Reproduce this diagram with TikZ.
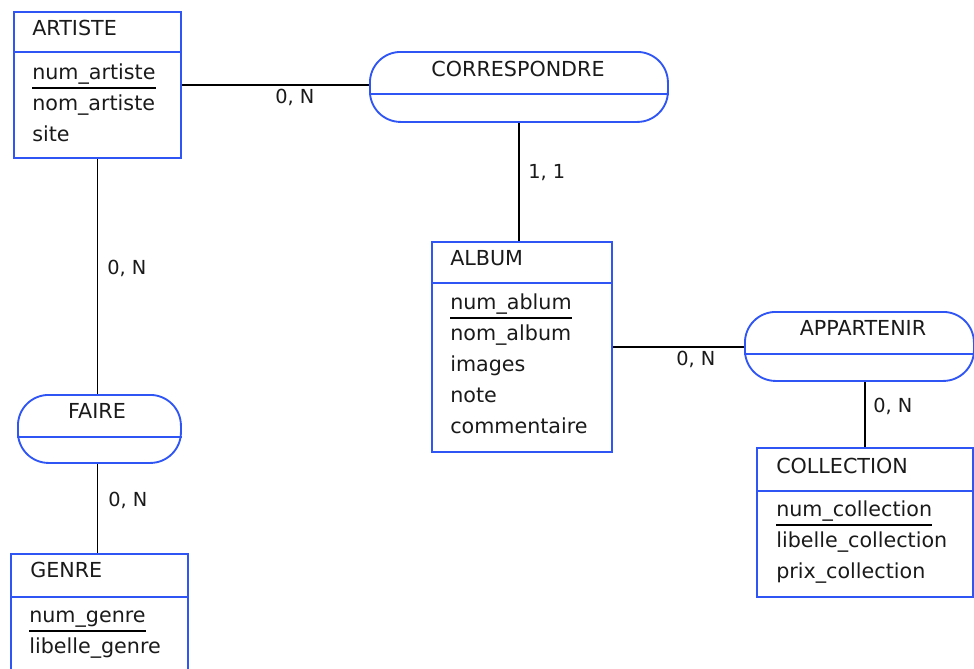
\documentclass[tikz,border=0pt]{standalone}
\usepackage{fontspec}
\setmainfont{DejaVu Sans}
\usetikzlibrary{calc,positioning}
\definecolor{erBlue}{HTML}{2F55F5}
\definecolor{erText}{HTML}{1A1A1A}
\newdimen\px \px=0.75pt

\begin{document}
\begin{tikzpicture}[x=0.75pt, y=-0.75pt,
  entity/.style={draw=erBlue, line width=1.4pt, anchor=north west, inner sep=0pt},
  relbox/.style={draw=erBlue, line width=1.4pt, anchor=north west, inner sep=0pt,
    rounded corners=23pt},
  sep/.style={draw=erBlue, line width=1.4pt},
  ttl/.style={font=\fontsize{15.5pt}{18pt}\selectfont, text=erText, anchor=base west, inner sep=0pt},
  rtl/.style={font=\fontsize{15.5pt}{18pt}\selectfont, text=erText, anchor=base, inner sep=0pt},
  attr/.style={font=\fontsize{15.5pt}{18pt}\selectfont, text=erText, anchor=base west, inner sep=0pt},
  card/.style={font=\fontsize{14.5pt}{17pt}\selectfont, text=erText, anchor=base west, inner sep=0pt},
  link/.style={draw=black, line width=1.3pt},
  key/.style={draw=black, line width=1.1pt}
]
  \useasboundingbox (0,0) rectangle (974,668);
  \clip (0,0) rectangle (974,668);
  % Entities and relations (boxes)
  \node[entity, minimum width=167\px, minimum height=146\px] (art) at (13,11) {};
  \node[relbox, minimum width=298\px, minimum height=70\px] (corr) at (369,51) {};
  \node[entity, minimum width=180\px, minimum height=210\px] (alb) at (431,241) {};
  \node[relbox, minimum width=229\px, minimum height=69\px] (app) at (744,311) {};
  \node[entity, minimum width=216\px, minimum height=149\px] (coll) at (756,447) {};
  \node[relbox, minimum width=163\px, minimum height=68\px] (fai) at (17,394) {};
  \node[entity, minimum width=177\px, minimum height=130\px] (gen) at (10,553) {};
  % Header separators
  \draw[sep] ([yshift=-41\px]art.north west) -- ([yshift=-41\px]art.north east);
  \draw[sep] ([yshift=-43\px]corr.north west) -- ([yshift=-43\px]corr.north east);
  \draw[sep] ([yshift=-42\px]alb.north west) -- ([yshift=-42\px]alb.north east);
  \draw[sep] ([yshift=-43\px]app.north west) -- ([yshift=-43\px]app.north east);
  \draw[sep] ([yshift=-44\px]coll.north west) -- ([yshift=-44\px]coll.north east);
  \draw[sep] ([yshift=-43\px]fai.north west) -- ([yshift=-43\px]fai.north east);
  \draw[sep] ([yshift=-44\px]gen.north west) -- ([yshift=-44\px]gen.north east);
  % Titles
  \node[ttl] (artT) at (32,35) {ARTISTE};
  \node[rtl] (corrT) at (518,76) {CORRESPONDRE};
  \node[ttl] (albT) at (450,265) {ALBUM};
  \node[rtl] (appT) at (863,335) {APPARTENIR};
  \node[ttl] (collT) at (776,473) {COLLECTION};
  \node[rtl] (faiT) at (97,418) {FAIRE};
  \node[ttl] (genT) at (30,577) {GENRE};
  % ARTISTE attributes
  \node[attr] (art1) at (32,79) {num\_artiste};
  \node[attr] (art2) at (32,110) {nom\_artiste};
  \node[attr] (art3) at (32,141) {site};
  \draw[key] ([yshift=-9\px]art1.base west) -- ([yshift=-9\px]art1.base east);
  % ALBUM attributes
  \node[attr] (alb1) at (450,309) {num\_ablum};
  \node[attr] (alb2) at (450,340) {nom\_album};
  \node[attr] (alb3) at (450,371) {images};
  \node[attr] (alb4) at (450,402) {note};
  \node[attr] (alb5) at (450,433) {commentaire};
  \draw[key] ([yshift=-9\px]alb1.base west) -- ([yshift=-9\px]alb1.base east);
  % COLLECTION attributes
  \node[attr] (coll1) at (776,516) {num\_collection};
  \node[attr] (coll2) at (776,547) {libelle\_collection};
  \node[attr] (coll3) at (776,578) {prix\_collection};
  \draw[key] ([yshift=-9\px]coll1.base west) -- ([yshift=-9\px]coll1.base east);
  % GENRE attributes
  \node[attr] (gen1) at (29,622) {num\_genre};
  \node[attr] (gen2) at (29,653) {libelle\_genre};
  \draw[key] ([yshift=-9\px]gen1.base west) -- ([yshift=-9\px]gen1.base east);
  % Links
  \draw[link] (art.east) -- (art.east -| corr.west);
  \draw[link] (corr.south) -- (corr.south |- alb.north);
  \draw[link] (alb.east) -- (alb.east -| app.west);
  \draw[link] (coll.north) -- (coll.north |- app.south);
  \draw[link] (art.south) -- (art.south |- fai.north);
  \draw[link] (fai.south -| art.south) -- (gen.north -| art.south);
  % Cardinalities
  \node[card] (c1) at (275,103) {0, N};
  \node[card] (c2) at (528,178) {1, 1};
  \node[card] (c3) at (107,274) {0, N};
  \node[card] (c4) at (108,506) {0, N};
  \node[card] (c5) at (676,365) {0, N};
  \node[card] (c6) at (873,412) {0, N};
\end{tikzpicture}
\end{document}
